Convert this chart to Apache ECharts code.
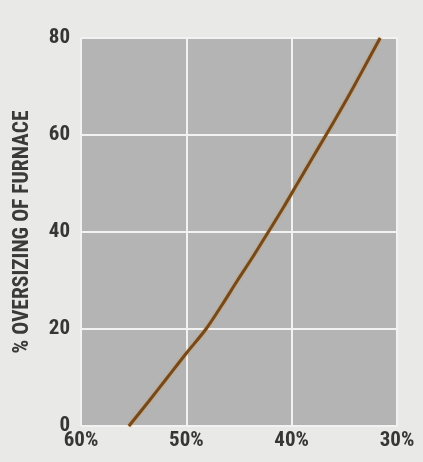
<!DOCTYPE html>
<html><head><meta charset="utf-8">
<style>html,body{margin:0;padding:0;background:#e9e9e7;}#c{width:423px;height:462px;}</style>
<script src="https://cdn.jsdelivr.net/npm/echarts@6/dist/echarts.min.js"></script>
</head><body><div id="c"></div>
<script>
const efficiency = [55.45, 53.6, 51.8, 50.0, 48.13, 46.6, 45.15, 43.65, 42.22, 40.8, 39.45, 38.1, 36.74, 35.4, 34.1, 32.85, 31.6];
const oversizing = [0, 5, 10, 15, 20, 25, 30, 35, 40, 45, 50, 55, 60, 65, 70, 75, 80];
const xTicks = [60, 50, 40, 30];
const yTicks = [0, 20, 40, 60, 80];
const yName = '% OVERSIZING OF FURNACE';

const font = '"Liberation Sans Narrow", "Roboto Condensed", "Liberation Sans", sans-serif';
const chart = echarts.init(document.getElementById('c'));
chart.setOption({
  backgroundColor: '#e9e9e7',
  animation: false,
  grid: {left: 81, right: 26, top: 38, bottom: 36, show: true, backgroundColor: '#b4b4b4', borderWidth: 0},
  xAxis: {
    type: 'value', inverse: true, min: xTicks[xTicks.length-1], max: xTicks[0], interval: 10,
    axisLine: {show: false}, axisTick: {show: false},
    splitLine: {show: true, lineStyle: {color: '#f2f2f2', width: 2}},
    axisLabel: {formatter: v => v + '%', color: '#363636', fontSize: 21, fontWeight: 'bold', fontFamily: font, margin: 4}
  },
  yAxis: {
    type: 'value', min: yTicks[0], max: yTicks[yTicks.length-1], interval: 20,
    name: yName, nameLocation: 'middle', nameGap: 47, nameRotate: 90,
    nameTextStyle: {color: '#3a3a3a', fontSize: 21.5, fontWeight: 'bold', fontFamily: font},
    axisLine: {show: false}, axisTick: {show: false},
    splitLine: {show: true, lineStyle: {color: '#f2f2f2', width: 2}},
    axisLabel: {color: '#363636', fontSize: 21, fontWeight: 'bold', fontFamily: font, margin: 11}
  },
  series: [{
    type: 'line',
    data: efficiency.map((x, i) => [x, oversizing[i]]),
    smooth: 0.3,
    showSymbol: false,
    lineStyle: {color: '#75491c', width: 3, shadowColor: 'rgba(205,145,60,0.9)', shadowBlur: 2}
  }]
});
</script></body></html>
